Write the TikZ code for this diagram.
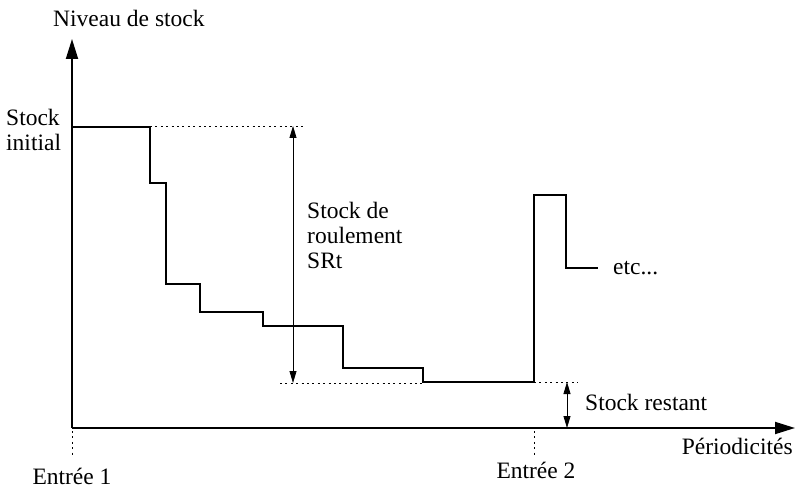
\documentclass[tikz,border=0pt]{standalone}
\usepackage{fontspec}
\setmainfont{Liberation Serif}
\usetikzlibrary{arrows.meta}
\begin{document}
\begin{tikzpicture}[x=1pt,y=-1pt,
  lbl/.style={font=\fontsize{23.5}{25}\selectfont, inner sep=0pt},
  axis/.style={line width=1.8pt,-{Triangle[length=20pt,width=12pt]}},
  curve/.style={line width=2pt, line join=miter},
  dim/.style={line width=0.8pt,{Triangle[length=12pt,width=7pt]}-{Triangle[length=12pt,width=7pt]}},
  guide/.style={line width=0.7pt, dash pattern=on 2pt off 3.4pt}]
\useasboundingbox (0,0) rectangle (801,489);
% axes
\coordinate (O) at (72,428);
\coordinate (Ytop) at (72,39);
\coordinate (Xend) at (795,428);
\draw[axis] (O) -- (Ytop);
\draw[axis] (O) -- (Xend);
% stock curve
\draw[curve] (72,127) -| (150,183) -| (166,284) -| (200,312) -| (263,326)
  -| (343,368) -| (423,382) -| (534,195) -| (566,268) -- (598,268);
% guides
\draw[guide] (150,126) -- (304,126);
\draw[guide] (280,383) -- (423,383);
\draw[guide] (534,382) -- (578,382);
\draw[guide] (72,431) -- (72,456);
\draw[guide] (534,431) -- (534,456);
% dimension arrows
\coordinate (srA) at (293,126);
\coordinate (srB) at (293,383);
\draw[dim] (srA) -- (srB);
\coordinate (rsA) at (567,382);
\coordinate (rsB) at (567,428);
\draw[dim] (rsA) -- (rsB);
% labels
\node[lbl, anchor=base west] (niv) at (53,27) {Niveau de stock};
\node[lbl, anchor=west, align=left] (sinit) at (6,130) {Stock\\initial};
\node[lbl, anchor=west, align=left] (srt) at (307,235) {Stock de\\roulement\\SRt};
\node[lbl, anchor=base west] (etc) at (613,275) {etc...};
\node[lbl, anchor=base west] (rest) at (585,410) {Stock restant};
\node[lbl, anchor=base east] (per) at (793,454) {Périodicités};
\node[lbl, anchor=base] (e1) at (72,484) {Entrée 1};
\node[lbl, anchor=base] (e2) at (536,478) {Entrée 2};
\end{tikzpicture}
\end{document}
